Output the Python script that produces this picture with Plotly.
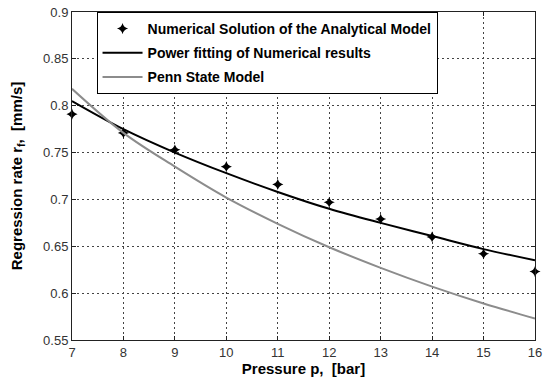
import plotly.graph_objects as go

pressure = [7, 8, 9, 10, 11, 12, 13, 14, 15, 16]
numerical = [0.791, 0.771, 0.753, 0.735, 0.716, 0.697, 0.679, 0.660, 0.642, 0.623]
power_fit = [0.805, 0.775, 0.750, 0.728, 0.708, 0.690, 0.675, 0.661, 0.647, 0.635]
penn_state = [0.818, 0.771, 0.735, 0.702, 0.674, 0.649, 0.627, 0.607, 0.589, 0.573]

x_ticks = [7, 8, 9, 10, 11, 12, 13, 14, 15, 16]
y_ticks = [0.55, 0.6, 0.65, 0.7, 0.75, 0.8, 0.85, 0.9]
y_tick_text = ["0.55", "0.6", "0.65", "0.7", "0.75", "0.8", "0.85", "0.9"]

fig = go.Figure()
fig.add_trace(go.Scatter(
    x=pressure, y=numerical, mode="markers",
    name="<b>Numerical Solution of the Analytical Model</b>",
    marker=dict(symbol="star-diamond", size=8, color="black"),
    cliponaxis=False, legendgroup="a"))
fig.add_trace(go.Scatter(
    x=pressure, y=power_fit, mode="lines",
    name="<b>Power fitting of Numerical results</b>",
    line=dict(color="black", width=2, shape="spline"), legendgroup="b"))
fig.add_trace(go.Scatter(
    x=pressure, y=penn_state, mode="lines",
    name="<b>Penn State Model</b>",
    line=dict(color="#8c8c8c", width=2, shape="spline"), legendgroup="c"))

axis_common = dict(
    showgrid=True, gridcolor="#444", griddash="2px,3px", gridwidth=1,
    showline=True, linecolor="#222", linewidth=1, mirror="ticks",
    ticks="inside", ticklen=4, tickcolor="#222",
    tickfont=dict(family="Liberation Sans, Arial", size=13, color="#333"),
    zeroline=False, ticklabeloverflow="allow",
)

fig.update_layout(
    width=547, height=387,
    margin=dict(l=72, r=5, t=6, b=47),
    paper_bgcolor="white", plot_bgcolor="white",
    xaxis=dict(range=[7, 16], tickvals=x_ticks,
               ticktext=[str(v) for v in x_ticks],
               title=dict(text="<b>Pressure p,  [bar]</b>", standoff=2,
                          font=dict(family="Liberation Sans, Arial", size=15, color="black")),
               **axis_common),
    yaxis=dict(range=[0.55, 0.9], tickvals=y_ticks, ticktext=y_tick_text,
               title=dict(text="<b>Regression rate r<sub>f</sub>,  [mm/s]</b>", standoff=16,
                          font=dict(family="Liberation Sans, Arial", size=15, color="black")),
               **axis_common),
    legend=dict(x=0.053, y=1, xanchor="left", yanchor="top",
                bgcolor="white", bordercolor="black", borderwidth=1,
                font=dict(family="Liberation Sans, Arial", size=14, color="black"),
                tracegroupgap=3, itemwidth=40),
    showlegend=True,
)

fig.write_html("out.html")
